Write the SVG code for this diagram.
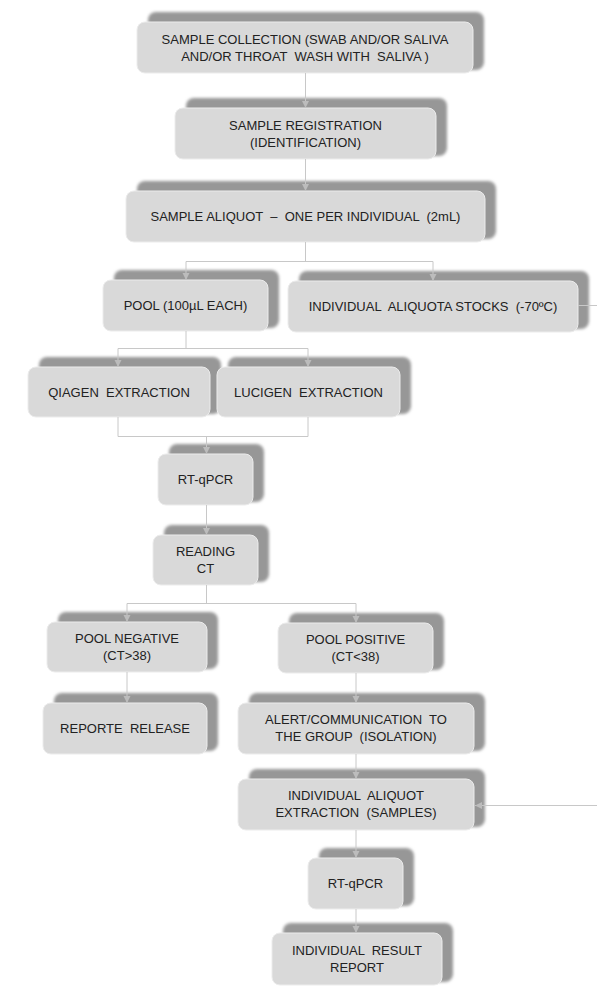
<svg xmlns="http://www.w3.org/2000/svg" width="597" height="991" viewBox="0 0 597 991">
<defs>
<filter id="blur" x="-10%" y="-20%" width="120%" height="140%"><feGaussianBlur stdDeviation="1.7"/></filter>
<marker id="arr" markerUnits="userSpaceOnUse" markerWidth="8" markerHeight="8" refX="7" refY="3.5" orient="auto"><path d="M0,0 L7,3.5 L0,7 z" fill="#bcbcbc"/></marker>
<style>
.sh{fill:#979797;filter:url(#blur)}
.fr{fill:#d9d9d9;stroke:#ececec;stroke-width:1}
text{font-family:"Liberation Sans",Arial,sans-serif;font-size:13px;fill:#222222;text-anchor:middle;white-space:pre}
.c{fill:none;stroke:#c8c8c8;stroke-width:1}
</style>
</defs>
<rect width="597" height="991" fill="#ffffff"/>
<g id="n1"><rect class="sh" x="148" y="12" width="336" height="58" rx="8"/><rect class="fr" x="137" y="22" width="336" height="51" rx="8"/><text x="305" y="44">SAMPLE COLLECTION (SWAB AND/OR SALIVA</text><text x="305" y="61">AND/OR THROAT  WASH WITH  SALIVA )</text></g>
<g id="n2"><rect class="sh" x="186" y="98" width="261" height="58" rx="8"/><rect class="fr" x="175" y="108" width="261" height="51" rx="8"/><text x="305.5" y="130">SAMPLE REGISTRATION</text><text x="305.5" y="147">(IDENTIFICATION)</text></g>
<g id="n3"><rect class="sh" x="137" y="181" width="359" height="58" rx="8"/><rect class="fr" x="126" y="191" width="359" height="51" rx="8"/><text x="305.5" y="221">SAMPLE ALIQUOT  –  ONE PER INDIVIDUAL  (2mL)</text></g>
<g id="n4"><rect class="sh" x="114" y="270" width="165" height="58" rx="8"/><rect class="fr" x="103" y="280" width="165" height="51" rx="8"/><text x="185.5" y="310">POOL (100µL EACH)</text></g>
<g id="n5"><rect class="sh" x="299" y="271" width="290" height="58" rx="8"/><rect class="fr" x="288" y="281" width="290" height="51" rx="8"/><text x="433" y="311">INDIVIDUAL  ALIQUOTA STOCKS  (-70ºC)</text></g>
<g id="n6"><rect class="sh" x="39" y="357" width="182" height="57" rx="8"/><rect class="fr" x="28" y="367" width="182" height="50" rx="8"/><text x="119" y="397">QIAGEN  EXTRACTION</text></g>
<g id="n7"><rect class="sh" x="228" y="357" width="183" height="57" rx="8"/><rect class="fr" x="217" y="367" width="183" height="50" rx="8"/><text x="308.5" y="397">LUCIGEN  EXTRACTION</text></g>
<g id="n8"><rect class="sh" x="169" y="444" width="95" height="58" rx="8"/><rect class="fr" x="158" y="454" width="95" height="51" rx="8"/><text x="205.5" y="484">RT-qPCR</text></g>
<g id="n9"><rect class="sh" x="164" y="525" width="105" height="57" rx="8"/><rect class="fr" x="153" y="535" width="105" height="50" rx="8"/><text x="205.5" y="556">READING</text><text x="205.5" y="573">CT</text></g>
<g id="n10"><rect class="sh" x="58" y="612" width="160" height="57" rx="8"/><rect class="fr" x="47" y="622" width="160" height="50" rx="8"/><text x="127" y="643">POOL NEGATIVE</text><text x="127" y="660">(CT&gt;38)</text></g>
<g id="n11"><rect class="sh" x="289" y="613" width="155" height="57" rx="8"/><rect class="fr" x="278" y="623" width="155" height="50" rx="8"/><text x="355.5" y="644">POOL POSITIVE</text><text x="355.5" y="661">(CT&lt;38)</text></g>
<g id="n12"><rect class="sh" x="54" y="693" width="164" height="58" rx="8"/><rect class="fr" x="43" y="703" width="164" height="51" rx="8"/><text x="125" y="733">REPORTE  RELEASE</text></g>
<g id="n13"><rect class="sh" x="249" y="693" width="236" height="58" rx="8"/><rect class="fr" x="238" y="703" width="236" height="51" rx="8"/><text x="356" y="724">ALERT/COMMUNICATION  TO</text><text x="356" y="741">THE GROUP  (ISOLATION)</text></g>
<g id="n14"><rect class="sh" x="249" y="769" width="236" height="58" rx="8"/><rect class="fr" x="238" y="779" width="236" height="51" rx="8"/><text x="356" y="800">INDIVIDUAL  ALIQUOT</text><text x="356" y="817">EXTRACTION  (SAMPLES)</text></g>
<g id="n15"><rect class="sh" x="319" y="848" width="95" height="58" rx="8"/><rect class="fr" x="308" y="858" width="95" height="51" rx="8"/><text x="355.5" y="888">RT-qPCR</text></g>
<g id="n16"><rect class="sh" x="283" y="923" width="170" height="59" rx="8"/><rect class="fr" x="272" y="933" width="170" height="52" rx="8"/><text x="357" y="955">INDIVIDUAL  RESULT</text><text x="357" y="972">REPORT</text></g>
<g id="connectors">
<line class="c" x1="305.5" y1="73" x2="305.5" y2="108" marker-end="url(#arr)"/>
<line class="c" x1="305.5" y1="159" x2="305.5" y2="191" marker-end="url(#arr)"/>
<polyline class="c" points="305.5,242 305.5,261.5"/>
<polyline class="c" points="186,261.5 433,261.5"/>
<line class="c" x1="186" y1="261.5" x2="186" y2="280" marker-end="url(#arr)"/>
<line class="c" x1="433" y1="261.5" x2="433" y2="281" marker-end="url(#arr)"/>
<polyline class="c" points="186,331 186,348.5"/>
<polyline class="c" points="118,348.5 308,348.5"/>
<line class="c" x1="118" y1="348.5" x2="118" y2="367" marker-end="url(#arr)"/>
<line class="c" x1="308" y1="348.5" x2="308" y2="367" marker-end="url(#arr)"/>
<polyline class="c" points="118,417 118,436.5 308,436.5 308,417"/>
<line class="c" x1="206.5" y1="436.5" x2="206.5" y2="454" marker-end="url(#arr)"/>
<line class="c" x1="206.5" y1="505" x2="206.5" y2="535" marker-end="url(#arr)"/>
<polyline class="c" points="206.5,585 206.5,603.5"/>
<polyline class="c" points="127,603.5 356,603.5"/>
<line class="c" x1="127" y1="603.5" x2="127" y2="622" marker-end="url(#arr)"/>
<line class="c" x1="356" y1="603.5" x2="356" y2="623" marker-end="url(#arr)"/>
<line class="c" x1="127" y1="672" x2="127" y2="703" marker-end="url(#arr)"/>
<line class="c" x1="356" y1="673" x2="356" y2="703" marker-end="url(#arr)"/>
<line class="c" x1="356" y1="754" x2="356" y2="779" marker-end="url(#arr)"/>
<line class="c" x1="356" y1="830" x2="356" y2="858" marker-end="url(#arr)"/>
<line class="c" x1="356" y1="909" x2="356" y2="933" marker-end="url(#arr)"/>
<line class="c" x1="578" y1="305.5" x2="597" y2="305.5"/>
<line class="c" x1="597" y1="805.5" x2="475" y2="805.5" marker-end="url(#arr)"/>
</g>
</svg>
